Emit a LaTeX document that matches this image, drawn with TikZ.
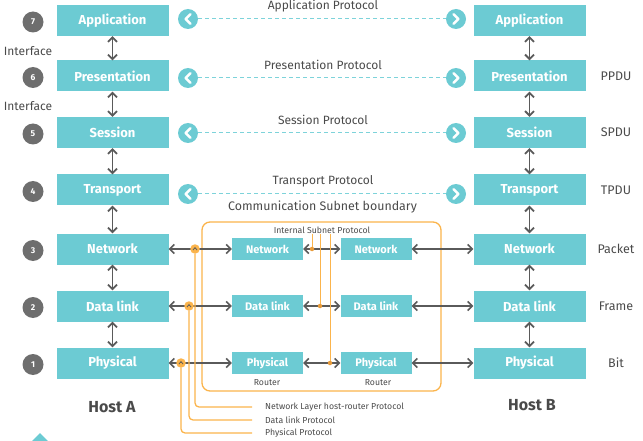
\documentclass[tikz,border=0pt]{standalone}
\usepackage{fontspec}
\setmainfont{Fira Sans}
\usetikzlibrary{arrows.meta}
\definecolor{tealbox}{HTML}{6CCBD3}
\definecolor{arrowgray}{HTML}{5A5A5A}
\definecolor{numgray}{HTML}{6E6E6E}
\definecolor{txtgray}{HTML}{4A4A4A}
\definecolor{orangeln}{HTML}{FBB44C}
\definecolor{orangedot}{HTML}{E89B3A}
\definecolor{dashteal}{HTML}{7DD3DA}
\begin{document}
\begin{tikzpicture}[x=1pt,y=-1pt,
    layer/.style={fill=tealbox, minimum width=112pt, minimum height=31pt, inner sep=0pt, text=white, font=\fontsize{13}{15}\selectfont\bfseries},
    router/.style={fill=tealbox, minimum width=71pt, minimum height=22pt, inner sep=0pt, text=white, font=\fontsize{11}{13}\selectfont\bfseries},
    num/.style={circle, fill=numgray, minimum size=21pt, inner sep=0pt, text=white, font=\fontsize{8.5}{9}\selectfont\bfseries},
    note/.style={text=txtgray, inner sep=0pt, font=\fontsize{12}{14}\selectfont},
    small/.style={text=txtgray, inner sep=0pt, font=\fontsize{8.7}{10}\selectfont},
    updown/.style={{Straight Barb[length=4.5pt,width=9pt]}-{Straight Barb[length=4.5pt,width=9pt]}, line width=1.8pt, draw=arrowgray},
    peer/.style={dash pattern=on 4pt off 3pt, draw=dashteal, line width=1pt},
    proto/.style={draw=orangeln, line width=1.3pt, rounded corners=4pt},
    inner/.style={draw=orangeln, line width=1pt},
    lchev/.style={circle, fill=tealbox, minimum size=20pt, inner sep=0pt, path picture={
        \draw[white, line width=2.6pt, line cap=round, line join=round]
        ([xshift=2.4pt,yshift=4.8pt]path picture bounding box.center) -- ([xshift=-2.4pt]path picture bounding box.center) -- ([xshift=2.4pt,yshift=-4.8pt]path picture bounding box.center);}},
    rchev/.style={circle, fill=tealbox, minimum size=20pt, inner sep=0pt, path picture={
        \draw[white, line width=2.6pt, line cap=round, line join=round]
        ([xshift=-2.4pt,yshift=4.8pt]path picture bounding box.center) -- ([xshift=2.4pt]path picture bounding box.center) -- ([xshift=-2.4pt,yshift=-4.8pt]path picture bounding box.center);}},
    jun/.style={circle, fill=orangeln, minimum size=9.5pt, inner sep=0pt, path picture={
        \draw[arrowgray, line width=0.8pt]
        ([xshift=-2pt,yshift=-1pt]path picture bounding box.center) -- ([yshift=1.4pt]path picture bounding box.center) -- ([xshift=2pt,yshift=-1pt]path picture bounding box.center);}},
    idot/.style={circle, fill=orangedot, minimum size=4.5pt, inner sep=0pt}]
    \useasboundingbox (0,0) rectangle (643,441);

    % subnet boundary
    \node[draw=orangeln, line width=1.3pt, rounded corners=8pt, minimum width=239pt, minimum height=169pt] (subnet) at (321.5,306.5) {};
    \node[note, font=\fontsize{12.4}{14}\selectfont] (bound) at (322.5,207) {Communication Subnet boundary};

    % host A and host B stacks
    \foreach \i/\t/\y in {7/Application/20.5, 6/Presentation/76, 5/Session/132.5, 4/Transport/190, 3/Network/249, 2/Data link/306, 1/Physical/363} {
        \node[layer] (a\i) at (112.5,\y) {\t};
        \node[layer] (b\i) at (529.5,\y) {\t};
        \node[num] (n\i) at (33,\y+1.5) {\i};
    }
    \foreach \i/\j in {7/6, 6/5, 5/4, 4/3, 3/2, 2/1} {
        \draw[updown] (a\i) -- (a\j);
        \draw[updown] (b\i) -- (b\j);
    }
    \node[note] (if1) at (28,51.5) {Interface};
    \node[note] (if2) at (28,106) {Interface};
    \foreach \i/\t in {6/PPDU, 5/SPDU, 4/TPDU, 3/Packet, 2/Frame, 1/Bit}
        \node[note, font=\fontsize{12.5}{14}\selectfont] (u\i) at (616,0 |- b\i) {\t};
    \node[text=txtgray, font=\fontsize{16}{18}\selectfont\bfseries] (hosta) at (112,407) {Host A};
    \node[text=txtgray, font=\fontsize{16}{18}\selectfont\bfseries] (hostb) at (532,405) {Host B};

    % peer protocols
    \foreach \i/\t/\y in {7/Application/19, 6/Presentation/78, 5/Session/133, 4/Transport/194} {
        \node[lchev] (pl\i) at (188,\y) {};
        \node[rchev] (pr\i) at (456,\y) {};
        \draw[peer] (pl\i) -- (pr\i);
        \node[note] (pt\i) at (323,\y-13) {\t\ Protocol};
    }

    % routers
    \foreach \k/\t/\y in {n/Network/249, l/Data link/306, p/Physical/363} {
        \node[router] (r\k1) at (267.5,\y) {\t};
        \node[router] (r\k2) at (376,\y) {\t};
    }
    \node[small] (rt1) at (267,383) {Router};
    \node[small] (rt2) at (378,383) {Router};
    \foreach \a/\k in {3/n, 2/l, 1/p} {
        \draw[updown, line width=1.5pt] (a\a) -- (r\k1);
        \draw[updown, line width=1.5pt] (r\k1) -- (r\k2);
        \draw[updown, line width=1.5pt] (b\a) -- (r\k2);
    }

    % internal subnet protocol
    \node[small] (isp) at (322,230) {Internal Subnet Protocol};
    \node[idot] (in) at (312,249) {};
    \node[idot] (il) at (320,306) {};
    \node[idot] (ip) at (330,363) {};
    \foreach \d in {in, il, ip}
        \draw[inner] (isp.south -| \d) -- (\d);

    % host-router protocols
    \node[small, anchor=west] (lnet) at (265,407) {Network Layer host-router Protocol};
    \node[small, anchor=west] (llink) at (265,420) {Data link Protocol};
    \node[small, anchor=west] (lphys) at (265,433) {Physical Protocol};
    \node[jun] (jn) at (195,249) {};
    \node[jun] (jl) at (189,306) {};
    \node[jun] (jp) at (181,363) {};
    \draw[proto] (jn.south) |- ([xshift=-13pt]lnet.west);
    \draw[proto] (jl.south) |- ([xshift=-13pt]llink.west);
    \draw[proto] (jp.south) |- ([xshift=-13pt]lphys.west);

    % cut-off marker
    \fill[tealbox] (40,433) -- (50,443) -- (30,443) -- cycle;
\end{tikzpicture}
\end{document}
